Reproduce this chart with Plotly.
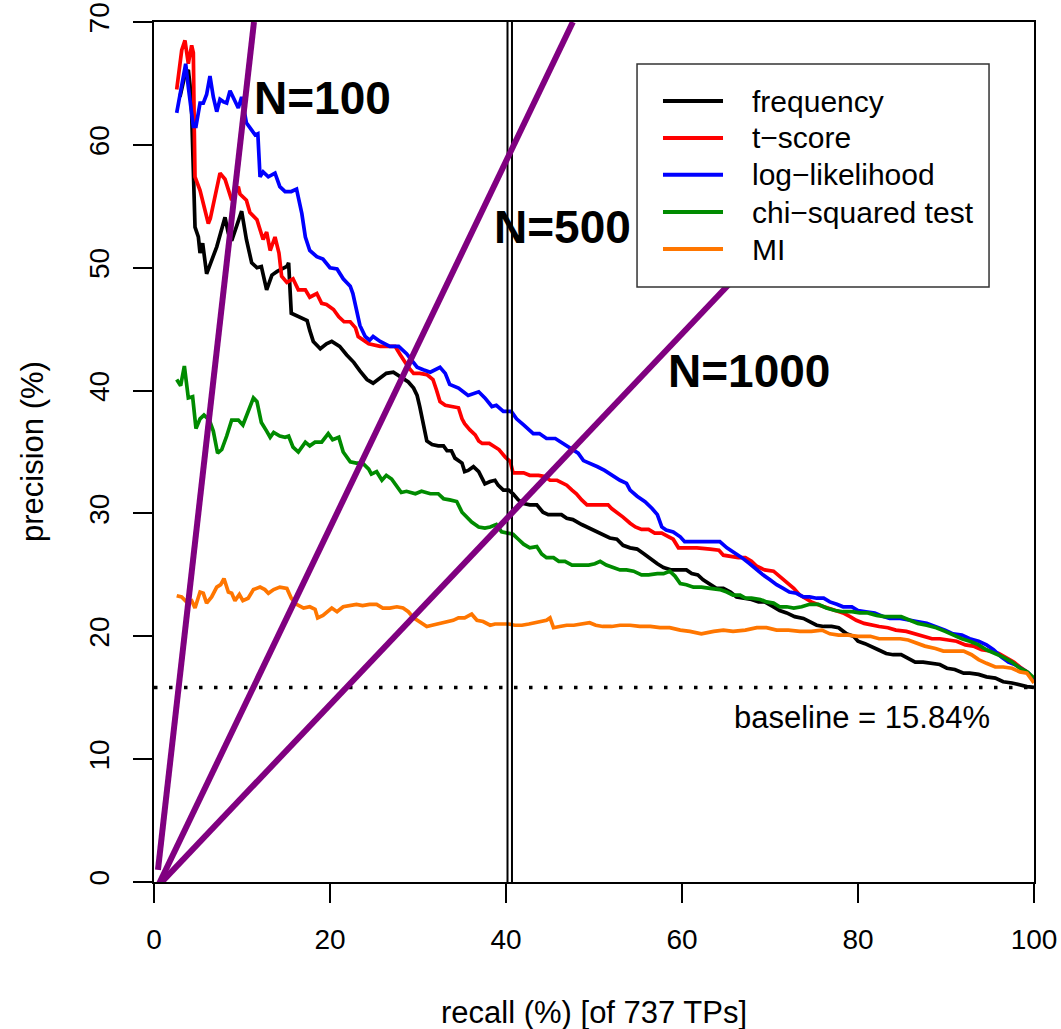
import plotly.graph_objects as go

# Precision/recall curves for five association measures (recall in %, precision in %)
freq_recall = [2.95, 3.15, 3.52, 3.9, 4.09, 4.28, 4.47, 4.66, 5.04, 5.23, 5.53, 5.98, 7.13, 8.07, 8.45, 8.83, 9.96, 10.5,
               11.1, 11.7, 12.2, 12.8, 13.4, 14.0, 15.1, 15.3, 15.6, 16.2, 17.0, 17.4, 17.7, 18.1, 18.9, 19.6, 20.2, 21.1,
               21.9, 22.7, 23.4, 24.2, 24.9, 25.7, 26.4, 27.2, 28.1, 28.9, 29.5, 29.9, 30.2, 30.6, 31.0, 31.6, 32.3, 32.9,
               33.3, 33.8, 34.2, 35.0, 35.3, 35.7, 36.3, 36.9, 37.2, 37.6, 38.2, 38.75, 39.1, 39.7, 40.3, 40.8, 41.4, 42.0,
               42.7, 43.5, 44.2, 44.8, 45.4, 46.3, 46.9, 47.6, 48.6, 49.2, 49.9, 50.7, 51.8, 52.6, 53.3, 54.1, 54.9, 55.7,
               56.4, 57.2, 57.9, 58.8, 59.8, 60.5, 61.1, 61.8, 62.4, 63.2, 63.9, 64.7, 65.5, 66.2, 67.0, 67.9, 68.7, 69.4,
               70.4, 71.1, 71.9, 72.8, 73.8, 74.5, 75.3, 76.1, 77.0, 77.8, 78.7, 79.5, 80.0, 80.8, 81.5, 82.3, 83.2, 84.0,
               84.9, 85.7, 86.5, 87.4, 88.4, 89.3, 90.1, 91.0, 92.0, 92.7, 93.7, 94.6, 95.6, 96.5, 97.5, 98.4, 99.2, 100.0]
freq_precision = [63.9, 64.5, 65.7, 66.1, 64.9, 62.6, 57.1, 53.3, 52.5, 51.2, 52.0, 49.5, 51.7, 54.1, 52.8, 52.2, 54.6, 52.3,
                  50.4, 50.0, 50.1, 48.2, 49.4, 49.7, 50.1, 50.4, 46.3, 46.1, 45.9, 45.7, 44.9, 44.0, 43.4, 43.8, 44.0, 43.6,
                  42.9, 42.3, 41.6, 40.9, 40.6, 41.0, 41.4, 41.5, 41.1, 40.7, 40.2, 39.6, 38.7, 37.3, 35.9, 35.6, 35.5, 35.5,
                  35.1, 35.1, 34.5, 34.1, 33.4, 33.5, 33.8, 33.4, 33.0, 32.4, 32.6, 32.7, 32.3, 31.9, 31.9, 31.6, 31.1, 30.8,
                  30.7, 30.7, 30.1, 29.9, 29.9, 29.9, 29.6, 29.5, 29.1, 28.9, 28.7, 28.4, 28.0, 27.9, 27.4, 27.2, 27.1, 26.7,
                  26.3, 25.9, 25.6, 25.4, 25.4, 25.4, 25.1, 25.0, 24.6, 24.2, 23.9, 23.9, 23.6, 23.2, 23.1, 23.0, 22.8, 22.8,
                  22.4, 22.1, 21.9, 21.6, 21.45, 21.2, 20.9, 20.8, 20.8, 20.7, 20.2, 20.0, 19.6, 19.4, 19.2, 18.9, 18.6, 18.5,
                  18.5, 18.2, 17.9, 17.9, 17.8, 17.7, 17.4, 17.3, 17.0, 17.0, 16.9, 16.7, 16.6, 16.3, 16.2, 16.0, 15.9, 15.84]

tscore_recall = [2.58, 3.15, 3.52, 3.9, 4.28, 4.47, 4.58, 4.66, 5.23, 6.17, 6.4, 7.5, 8.07, 8.83, 9.58, 9.77, 10.5, 10.9,
                 11.7, 12.4, 12.8, 13.2, 13.75, 14.2, 14.5, 15.1, 15.8, 16.4, 17.2, 17.7, 18.5, 19.05, 19.6, 20.4, 21.0,
                 21.6, 22.3, 22.9, 23.2, 23.8, 24.4, 25.7, 27.4, 28.0, 28.5, 28.9, 29.5, 30.2, 31.0, 31.7, 32.1, 32.5, 33.1,
                 34.0, 34.6, 35.0, 35.3, 35.9, 36.5, 36.9, 37.3, 38.1, 38.6, 39.2, 39.9, 40.5, 40.8, 42.0, 42.7, 43.7, 44.4,
                 45.0, 45.8, 46.9, 47.5, 48.0, 48.6, 49.2, 49.9, 50.9, 51.6, 52.0, 52.6, 53.3, 54.1, 54.7, 55.4, 56.2, 56.9,
                 57.7, 58.5, 59.0, 59.6, 60.5, 61.7, 63.2, 64.2, 64.7, 65.5, 66.4, 67.2, 67.9, 68.5, 69.4, 70.4, 71.1, 71.9,
                 72.7, 73.4, 74.0, 74.7, 75.7, 76.6, 77.6, 78.3, 79.1, 79.8, 80.7, 81.5, 82.4, 83.4, 84.3, 85.5, 86.5, 87.4,
                 88.4, 89.3, 90.3, 91.2, 92.2, 93.1, 94.05, 95.0, 96.0, 96.9, 97.7, 98.4, 99.2, 100.0]
tscore_precision = [64.5, 67.7, 68.5, 66.6, 68.1, 67.5, 61.2, 57.4, 56.3, 53.6, 54.0, 57.7, 57.2, 55.5, 56.6, 56.0, 55.5, 54.5,
                    53.9, 52.3, 52.9, 51.4, 52.5, 51.2, 49.3, 48.8, 49.1, 48.2, 48.2, 47.6, 47.9, 47.1, 47.0, 46.6, 46.0,
                    45.6, 45.6, 45.1, 44.4, 44.1, 43.8, 43.6, 43.6, 42.9, 42.3, 41.9, 41.4, 41.4, 41.3, 40.9, 40.05, 39.1, 38.8,
                    38.7, 38.6, 37.7, 37.3, 36.8, 36.4, 35.9, 35.7, 35.7, 35.5, 35.2, 34.6, 34.2, 33.3, 33.3, 33.1, 33.1, 33.0,
                    32.7, 32.7, 32.3, 31.9, 31.6, 31.1, 30.7, 30.7, 30.7, 30.7, 30.4, 30.1, 29.7, 29.2, 28.9, 28.7, 28.7, 28.4,
                    28.4, 28.1, 27.9, 27.2, 27.2, 27.2, 27.1, 27.0, 26.6, 26.5, 26.4, 26.4, 26.1, 25.7, 25.4, 25.3, 24.9, 24.4,
                    23.9, 23.35, 23.1, 22.8, 22.5, 22.3, 22.0, 21.9, 21.6, 21.3, 21.05, 20.9, 20.8, 20.7, 20.5, 20.4, 20.2, 20.0,
                    19.8, 19.8, 19.7, 19.6, 19.3, 19.2, 18.9, 18.8, 18.6, 18.2, 17.9, 17.5, 17.1, 16.4]

loglik_recall = [2.58, 2.97, 3.33, 3.6, 3.9, 4.47, 4.77, 5.23, 5.6, 5.98, 6.36, 6.74, 7.13, 7.5, 7.9, 8.26, 8.64, 9.2, 9.58,
                 9.96, 10.5, 11.1, 11.5, 11.8, 12.05, 12.4, 12.99, 13.75, 14.3, 14.9, 15.6, 16.2, 16.8, 17.2, 17.7, 18.5,
                 19.2, 20.0, 20.8, 21.5, 22.3, 22.6, 23.0, 23.4, 24.0, 24.5, 24.9, 25.7, 26.8, 27.8, 28.7, 29.9, 30.6, 31.4,
                 32.5, 33.1, 33.6, 34.6, 35.7, 36.9, 37.6, 38.4, 38.9, 39.7, 40.6, 41.2, 42.0, 43.1, 43.8, 44.6, 45.6, 46.3,
                 47.3, 48.2, 48.8, 49.5, 50.4, 51.2, 52.0, 52.95, 53.7, 54.1, 54.9, 55.8, 56.6, 57.2, 57.7, 58.2, 59.0, 59.8,
                 60.3, 61.1, 62.05, 63.2, 64.3, 65.1, 65.8, 66.8, 67.7, 68.5, 69.2, 70.0, 70.75, 71.5, 72.2, 73.0, 73.8,
                 74.5, 75.3, 76.1, 76.8, 77.6, 78.3, 79.3, 80.0, 80.9, 81.9, 82.9, 83.6, 84.8, 85.7, 86.7, 87.8, 88.9, 89.9,
                 90.8, 91.8, 92.7, 93.7, 94.6, 95.4, 96.3, 97.1, 97.8, 98.8, 99.4, 100.0]
loglik_precision = [62.6, 64.2, 65.8, 66.6, 64.7, 61.5, 61.5, 63.4, 63.4, 64.1, 65.6, 63.9, 62.7, 63.7, 63.5, 63.4, 64.4, 63.5,
                    63.0, 63.9, 61.8, 61.2, 60.8, 60.9, 57.4, 57.8, 57.4, 57.7, 56.6, 56.2, 56.2, 56.4, 54.4, 52.5, 51.4, 50.9,
                    50.7, 50.0, 49.9, 49.1, 48.5, 47.9, 46.6, 45.3, 44.4, 44.1, 44.4, 44.0, 43.6, 43.6, 43.0, 41.9, 41.7, 41.5,
                    41.9, 41.4, 40.5, 40.2, 39.6, 39.9, 39.4, 38.7, 38.8, 38.3, 38.3, 37.7, 37.2, 36.5, 36.5, 36.1, 36.1, 35.8,
                    35.3, 34.9, 34.3, 34.1, 33.8, 33.5, 33.1, 32.7, 32.45, 31.9, 31.4, 30.96, 30.4, 29.9, 28.9, 28.65, 28.5, 28.1,
                    27.7, 27.7, 27.7, 27.7, 27.7, 27.2, 26.9, 26.4, 25.9, 25.4, 25.0, 24.6, 24.2, 23.9, 23.6, 23.5, 23.2,
                    23.2, 23.1, 23.1, 22.8, 22.6, 22.4, 22.4, 22.1, 22.0, 21.9, 21.6, 21.45, 21.45, 21.3, 21.2, 21.05, 20.8, 20.5,
                    20.2, 20.1, 19.8, 19.6, 19.3, 18.9, 18.3, 17.9, 17.7, 17.3, 17.0, 16.4]

chisq_recall = [2.58, 3.03, 3.45, 3.9, 4.39, 4.77, 5.23, 5.68, 6.29, 6.74, 7.23, 7.7, 8.26, 8.83, 9.58, 10.1, 10.7, 11.3, 11.7,
                12.2, 12.8, 13.2, 13.6, 14.3, 14.9, 15.3, 15.8, 16.4, 17.2, 17.7, 18.3, 19.05, 19.8, 20.3, 21.0, 21.5, 22.3,
                23.0, 23.7, 24.4, 24.7, 25.3, 25.9, 26.4, 27.0, 27.6, 28.1, 28.7, 29.7, 30.4, 31.4, 32.3, 32.9, 33.6, 34.4,
                35.0, 35.5, 36.1, 36.9, 37.6, 38.2, 38.9, 39.5, 40.3, 40.8, 41.4, 42.0, 42.7, 43.5, 44.05, 44.6, 45.4, 46.0,
                46.7, 47.5, 48.4, 49.4, 50.1, 50.7, 51.4, 52.2, 52.95, 53.7, 54.5, 55.4, 56.2, 57.2, 57.9, 58.6, 59.2, 59.8,
                60.5, 61.3, 62.2, 63.2, 64.3, 65.1, 65.8, 66.6, 67.2, 67.9, 68.9, 69.6, 70.4, 71.1, 71.9, 72.7, 73.6, 74.5,
                75.5, 76.4, 77.4, 78.3, 79.3, 80.2, 81.1, 82.1, 83.0, 84.0, 84.9, 85.9, 86.8, 87.8, 88.9, 89.9, 90.8, 91.8,
                92.7, 93.7, 94.6, 95.6, 96.5, 97.5, 98.4, 99.2, 100.0]
chisq_precision = [40.9, 40.4, 42.0, 39.4, 39.5, 36.9, 37.7, 38.0, 37.6, 36.7, 34.9, 35.2, 36.3, 37.6, 37.6, 37.2, 38.3, 39.4,
                   39.1, 37.4, 36.7, 36.2, 36.6, 36.3, 36.2, 36.3, 35.4, 35.0, 35.8, 35.5, 35.8, 35.8, 36.5, 36.0, 36.2, 35.0,
                   34.2, 34.1, 34.1, 33.6, 33.2, 33.4, 32.7, 33.1, 32.8, 32.2, 31.7, 31.8, 31.6, 31.8, 31.6, 31.6, 31.2, 31.1,
                   30.97, 30.1, 29.7, 29.3, 28.9, 28.8, 28.9, 29.1, 28.5, 28.4, 28.3, 27.9, 27.5, 27.2, 27.3, 26.7, 26.4, 26.4,
                   26.1, 26.1, 25.8, 25.8, 25.8, 25.9, 26.1, 25.8, 25.6, 25.4, 25.4, 25.3, 25.0, 25.0, 25.1, 25.1, 25.3, 24.9,
                   24.3, 24.2, 24.0, 24.0, 23.9, 23.8, 23.6, 23.35, 23.35, 23.1, 23.1, 23.0, 22.8, 22.7, 22.4, 22.4, 22.3,
                   22.4, 22.6, 22.6, 22.3, 22.1, 22.0, 22.0, 21.9, 21.9, 21.7, 21.6, 21.6, 21.6, 21.3, 21.05, 20.9, 20.7, 20.4,
                   20.1, 19.8, 19.6, 19.3, 18.9, 18.6, 18.3, 17.9, 17.4, 17.1, 16.6]

mi_recall = [2.58, 3.14, 3.7, 4.28, 4.66, 5.23, 5.6, 5.98, 6.55, 7.13, 7.58, 7.95, 8.45, 8.83, 9.2, 9.7, 10.1, 10.7, 11.3,
             12.05, 12.6, 13.0, 13.6, 14.3, 15.1, 15.6, 16.2, 17.0, 17.7, 18.3, 18.6, 19.2, 20.2, 20.8, 21.5, 22.3, 23.0,
             23.7, 24.5, 25.3, 26.0, 26.8, 27.6, 28.3, 28.9, 29.5, 30.2, 31.0, 31.6, 32.3, 33.1, 34.0, 34.6, 35.3, 36.1,
             36.7, 37.4, 38.2, 38.75, 39.5, 40.3, 41.0, 41.8, 42.6, 43.3, 44.05, 44.6, 45.0, 45.4, 46.1, 46.9, 47.7, 48.6,
             49.5, 50.2, 51.0, 52.0, 52.95, 54.1, 55.2, 56.4, 57.5, 58.6, 59.8, 60.9, 62.2, 63.6, 64.7, 65.8, 67.2, 68.5,
             69.6, 70.75, 72.1, 73.4, 74.7, 75.9, 76.8, 77.8, 78.9, 80.0, 81.4, 82.4, 83.6, 84.8, 85.7, 86.7, 87.6, 88.8,
             89.7, 90.8, 92.0, 92.9, 93.7, 94.6, 95.6, 96.5, 97.5, 98.4, 99.2, 100.0]
mi_precision = [23.3, 23.2, 22.8, 22.9, 22.3, 23.6, 23.5, 22.7, 23.2, 24.0, 24.2, 24.7, 23.6, 23.5, 22.9, 23.4, 22.9, 23.1, 23.8,
                24.0, 23.8, 23.5, 23.8, 24.0, 23.9, 23.1, 22.6, 22.3, 22.4, 22.2, 21.5, 21.7, 22.3, 22.0, 22.4, 22.5, 22.6,
                22.5, 22.6, 22.6, 22.3, 22.3, 22.4, 22.3, 22.0, 21.5, 21.2, 20.8, 20.9, 21.0, 21.1, 21.3, 21.5, 21.5, 21.8,
                21.3, 21.2, 20.9, 21.0, 21.0, 21.0, 20.9, 20.9, 21.0, 21.1, 21.2, 21.3, 21.5, 20.7, 20.8, 20.9, 20.9, 21.0,
                21.1, 20.9, 20.8, 20.8, 20.9, 20.9, 20.8, 20.8, 20.7, 20.7, 20.5, 20.4, 20.2, 20.4, 20.5, 20.4, 20.5, 20.7,
                20.7, 20.5, 20.5, 20.4, 20.4, 20.5, 20.2, 20.1, 20.1, 20.0, 20.0, 19.8, 19.8, 19.8, 19.7, 19.4, 19.2, 19.0,
                18.8, 18.8, 18.8, 18.5, 18.1, 17.8, 17.5, 17.5, 17.4, 17.1, 17.0, 16.2]

series_names = ["frequency", "t\u2212score", "log\u2212likelihood", "chi\u2212squared test", "MI"]
series_colors = ["#000000", "#FF0000", "#0000FF", "#008B00", "#FF7600"]
series_data = [(freq_recall, freq_precision), (tscore_recall, tscore_precision), (loglik_recall, loglik_precision),
               (chisq_recall, chisq_precision), (mi_recall, mi_precision)]

baseline = 15.84
total_tps = 737

# Reference lines for n-best lists of fixed size (start and end points in recall/precision)
nbest_labels = ["N=100", "N=500", "N=1000"]
nbest_recall = [[0.45, 11.36], [0.45, 47.6], [0.45, 65.8]]
nbest_precision = [[0.98, 70.0], [-0.33, 70.0], [-0.33, 49.0]]
nbest_label_pos = [(19.1, 63.8), (46.4, 53.3), (67.6, 41.6)]

# Double vertical marker near 40% recall
marker_recall = [40.17, 40.68]

x_ticks = [0, 20, 40, 60, 80, 100]
y_ticks = [0, 10, 20, 30, 40, 50, 60, 70]

FONT = "Liberation Sans, Arial, Helvetica, sans-serif"

fig = go.Figure()

for (xs, ys), name, col in zip(series_data, series_names, series_colors):
    fig.add_trace(go.Scatter(x=xs, y=ys, mode="lines", name=name,
                             line=dict(color=col, width=3.7), showlegend=False))

# baseline precision
fig.add_trace(go.Scatter(x=[0, 100], y=[baseline, baseline], mode="lines", showlegend=False,
                         line=dict(color="black", width=3.5, dash="3.5px,11.5px")))

for xm in marker_recall:
    fig.add_trace(go.Scatter(x=[xm, xm], y=[-0.4, 70], mode="lines", showlegend=False,
                             line=dict(color="black", width=2)))

for xs, ys in zip(nbest_recall, nbest_precision):
    fig.add_trace(go.Scatter(x=xs, y=ys, mode="lines", showlegend=False,
                             line=dict(color="#800080", width=6)))

annotations = []
for lab, (lx, ly) in zip(nbest_labels, nbest_label_pos):
    annotations.append(dict(x=lx, y=ly, xref="x", yref="y", text=lab, showarrow=False,
                            font=dict(family=FONT, size=46, color="black", weight="bold"),
                            xanchor="center", yanchor="middle"))

annotations.append(dict(x=80.45, y=13.35, xref="x", yref="y", text=f"baseline = {baseline:.2f}%",
                        showarrow=False, font=dict(family=FONT, size=31, color="black"),
                        xanchor="center", yanchor="middle"))

annotations.append(dict(x=0.5, y=-0.1523, xref="paper", yref="paper",
                        text=f"recall (%) [of {total_tps} TPs]", showarrow=False,
                        font=dict(family=FONT, size=31, color="black"), xanchor="center", yanchor="middle"))
annotations.append(dict(x=-0.1386, y=0.5, xref="paper", yref="paper", text="precision (%)",
                        showarrow=False, textangle=-90,
                        font=dict(family=FONT, size=31, color="black"), xanchor="center", yanchor="middle"))

# hand-built legend box
shapes = [dict(type="rect", xref="x", yref="y", x0=54.89, x1=94.89, y0=48.43, y1=66.58,
               line=dict(color="#333333", width=1.5), fillcolor="white", layer="above")]
legend_rows = [63.57, 60.56, 57.57, 54.53, 51.52]
for row, name, col in zip(legend_rows, series_names, series_colors):
    shapes.append(dict(type="line", xref="x", yref="y", x0=57.84, x1=64.66, y0=row, y1=row,
                       line=dict(color=col, width=4), layer="above"))
    annotations.append(dict(x=67.73, y=row, xref="x", yref="y", text=name, showarrow=False,
                            font=dict(family=FONT, size=30, color="black"),
                            xanchor="left", yanchor="middle"))

axis_common = dict(showgrid=False, zeroline=False, showline=True, linecolor="black", linewidth=2,
                   mirror=True, ticks="outside", ticklen=19, tickwidth=1.5, tickcolor="black",
                   automargin=False, tickfont=dict(family=FONT, size=28, color="black"))

fig.update_layout(
    width=1061, height=1029,
    margin=dict(l=154, r=27, t=22, b=147, autoexpand=False),
    paper_bgcolor="white", plot_bgcolor="white",
    xaxis=dict(range=[0, 100], tickvals=x_ticks, ticklabelstandoff=12, **axis_common),
    yaxis=dict(range=[0, 70], tickvals=y_ticks, tickangle=-90, ticklabelstandoff=13, **axis_common),
    annotations=annotations, shapes=shapes, showlegend=False,
)

fig.write_html("out.html")
